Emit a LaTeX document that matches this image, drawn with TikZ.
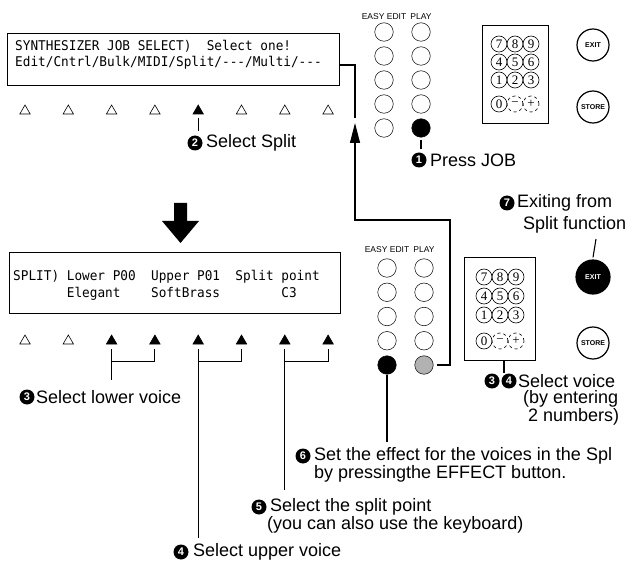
\documentclass[tikz,border=0pt]{standalone}
\usepackage{fontspec}
\setmainfont{Liberation Sans}
\newfontfamily\lcdfont[FakeStretch=0.95]{DejaVu Sans Mono}
\newfontfamily\keyfont{Liberation Serif}
\usetikzlibrary{shapes.geometric,arrows.meta}
\newcommand\hy{\mbox{-}}
\tikzset{
 lbl/.style={font=\fontsize{18}{21}\selectfont, inner sep=0pt, anchor=west},
 num/.style={circle, fill=black, text=white, inner sep=0pt, minimum size=15pt, font=\fontsize{11}{11}\selectfont\bfseries},
 lcdtext/.style={font=\lcdfont\fontsize{13.4}{15}\selectfont, inner sep=0pt, anchor=west},
 lcdbox/.style={draw, line width=0.9pt, anchor=north west, inner sep=0pt},
 tri/.style={regular polygon, regular polygon sides=3, draw, inner sep=0pt, minimum size=12pt, line width=0.6pt},
 trif/.style={tri, fill=black},
 pad/.style={circle, draw, minimum size=18.5pt, inner sep=0pt, line width=0.5pt},
 padf/.style={pad, fill=black},
 padg/.style={pad, fill=gray!60},
 key/.style={circle, draw, minimum size=16pt, inner sep=0pt, font=\keyfont\fontsize{13}{13}\selectfont, line width=0.6pt},
 keyd/.style={key, dashed},
 kbox/.style={draw, line width=0.8pt, anchor=north west, inner sep=0pt},
 bigbtn/.style={circle, draw, line width=1.2pt, minimum size=32pt, inner sep=0pt, font=\fontsize{7}{7}\selectfont\bfseries},
 conn/.style={line width=1.1pt},
 small/.style={font=\fontsize{8.5}{9}\selectfont, inner sep=0pt},
}
\begin{document}
\begin{tikzpicture}[x=1pt,y=-1pt]
\useasboundingbox (0,0) rectangle (635,564);
% ---------- top LCD ----------
\node[lcdbox, minimum width=332pt, minimum height=52pt] (lcd1) at (7,33) {};
\node[lcdtext] (l1a) at (15,46) {SYNTHESIZER~JOB~SELECT)~~Select~one!};
\node[lcdtext] (l1b) at (15,63) {Edit/Cntrl/Bulk/MIDI/Split/\hy\hy\hy/Multi/\hy\hy\hy};
\foreach \s [count=\i from 0] in {tri,tri,tri,tri,trif,tri,tri,tri}
  \node[\s] (ta\i) at ({25+43.3*\i},111) {};
\node[num] (n2) at (195,143) {2};
\node[lbl] (t2) at (206,143) {Select Split};
\draw[conn] ([yshift=-4pt]ta4.south) -- ([yshift=4pt]ta4.south |- n2.north);
% ---------- top panel ----------
\node[small] (ee1) at (384,17) {EASY EDIT};
\node[small] (pl1) at (421,17) {PLAY};
\foreach \r in {0,...,4} \node[pad] (pa\r) at (384,{32+24*\r}) {};
\foreach \r in {0,...,3} \node[pad] (pb\r) at (421,{32+24*\r}) {};
\node[padf] (pb4) at (421,128) {};
\node[num] (n1) at (419,160) {1};
\node[lbl] (t1) at (430,160) {Press JOB};
\draw[conn] ([yshift=-3pt]pb4.south) -- ([yshift=3pt]pb4.south |- n1.north);
\node[kbox, minimum width=66pt, minimum height=98pt] (kp1) at (482,25) {};
\foreach \k [count=\i from 0] in {7,8,9} \node[key] (ka\k) at ({499+16*\i},44) {\k};
\foreach \k [count=\i from 0] in {4,5,6} \node[key] (ka\k) at ({499+16*\i},62) {\k};
\foreach \k [count=\i from 0] in {1,2,3} \node[key] (ka\k) at ({499+16*\i},80) {\k};
\node[key] (ka0) at (499,104) {0};
\node[keyd] (kam) at (515,104) {−};
\node[keyd] (kap) at (531,104) {+};
\node[bigbtn] (ex1) at (593,45) {EXIT};
\node[bigbtn] (st1) at (593,107) {STORE};
% connector LCD -> panel
\coordinate (r3) at (355,65);
\coordinate (r4) at (355,118);
\draw[conn] (lcd1.east |- r3) -- (r3) -- (r4);
% ---------- big arrow ----------
\fill (174,203) -- (187,203) -- (187,221) -- (199,221) -- (180.5,243) -- (162,221) -- (174,221) -- cycle;
% ---------- bottom LCD ----------
\node[lcdbox, minimum width=331pt, minimum height=61pt] (lcd2) at (9,252) {};
\node[lcdtext] (l2a) at (13,277) {SPLIT)~Lower~P00~~Upper~P01~~Split~point};
\node[lcdtext] (l2b) at (13,294) {~~~~~~~Elegant~~~~SoftBrass~~~~~~~~C3};
\foreach \s [count=\i from 0] in {tri,tri,trif,trif,trif,trif,trif,trif}
  \node[\s] (tb\i) at ({25+43.3*\i},341) {};
% brackets
\draw[conn] ([yshift=-5pt]tb2.south) -- ([yshift=-36pt]tb2.south);
\draw[conn] ([yshift=-5pt]tb3.south) |- ([yshift=-17pt]tb2.south);
\draw[conn] ([yshift=-5pt]tb4.south) -- ([yshift=-194pt]tb4.south);
\draw[conn] ([yshift=-5pt]tb5.south) |- ([yshift=-17pt]tb4.south);
\draw[conn] ([yshift=-5pt]tb6.south) -- ([yshift=-146pt]tb6.south);
\draw[conn] ([yshift=-5pt]tb7.south) |- ([yshift=-17pt]tb6.south);
\node[num] (n3) at (27,397) {3};
\node[lbl] (t3) at (36,397) {Select lower voice};
\node[num] (n4) at (181,552) {4};
\node[lbl] (t4) at (193,552) {Select upper voice};
\node[num] (n5) at (259,507) {5};
\node[lbl] (t5a) at (270,507) {Select the split point};
\node[lbl] (t5b) at (267,525) {(you can also use the keyboard)};
% ---------- bottom panel ----------
\node[small] (ee2) at (387,250) {EASY EDIT};
\node[small] (pl2) at (424,250) {PLAY};
\foreach \r in {0,...,3} \node[pad] (qa\r) at (387,{268+24.25*\r}) {};
\foreach \r in {0,...,3} \node[pad] (qb\r) at (424,{268+24.25*\r}) {};
\node[padf] (qa4) at (387,365) {};
\node[padg] (qb4) at (424,365) {};
\coordinate (r1) at (450,220);
\coordinate (r2) at (355,220);
\coordinate (tip) at (355,123);
\draw[conn,-{Triangle[length=20pt,width=10pt]}] ([xshift=3pt]qb4.east) -- (qb4.east -| r1) -- (r1) -- (r2) -- (tip);
\coordinate (e6) at (387,442);
\draw[conn] (qa4.south) -- (e6);
\node[num] (n6) at (303,456) {6};
\node[lbl] (t6a) at (314,456) {Set the effect for the voices in the Spl};
\node[lbl] (t6b) at (314,474) {by pressingthe EFFECT button.};
\node[kbox, minimum width=71pt, minimum height=103pt] (kp2) at (464,257) {};
\foreach \k [count=\i from 0] in {7,8,9} \node[key] (kb\k) at ({484+16*\i},277) {\k};
\foreach \k [count=\i from 0] in {4,5,6} \node[key] (kb\k) at ({484+16*\i},296) {\k};
\foreach \k [count=\i from 0] in {1,2,3} \node[key] (kb\k) at ({484+16*\i},315) {\k};
\node[key] (kb0) at (484,341) {0};
\node[keyd] (kbm) at (500,341) {−};
\node[keyd] (kbp) at (516,341) {+};
\coordinate (e34) at (504,373);
\draw[conn] (kp2.south -| e34) -- (e34);
\node[num] (n3b) at (492,381) {3};
\node[num] (n4b) at (509,381) {4};
\node[lbl] (t34a) at (518,381) {Select voice};
\node[lbl] (t34b) at (523,399) {(by entering};
\node[lbl] (t34c) at (528,417) {2 numbers)};
\node[bigbtn, fill=black, text=white, minimum size=34pt] (ex2) at (593,277) {EXIT};
\node[bigbtn] (st2) at (593,343) {STORE};
\node[num] (n7) at (507,203) {7};
\node[lbl] (t7a) at (517,203) {Exiting from};
\node[lbl] (t7b) at (523,225) {Split function};
\coordinate (c7) at (596,239);
\draw[conn] (c7) -- ([yshift=2pt]ex2.north);
\end{tikzpicture}
\end{document}
